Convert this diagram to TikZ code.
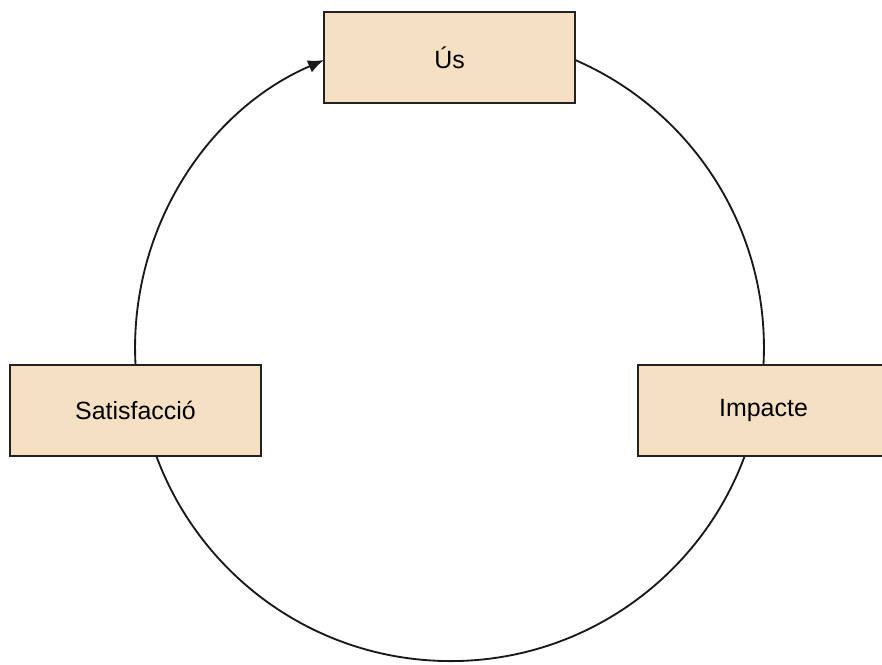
\documentclass[tikz,border=0pt]{standalone}
\usepackage{fontspec}
\setmainfont{Liberation Sans}
\usetikzlibrary{arrows.meta,backgrounds}
\definecolor{boxfill}{HTML}{F5E0C3}
\definecolor{boxline}{HTML}{222222}
\tikzset{
	fase/.style={draw=boxline, line width=1.1pt, fill=boxfill, minimum width=5.02cm, minimum height=1.82cm, font=\fontsize{14.2}{17}\selectfont},
	ring/.style={line width=1.05pt, color=black!90}
}
\begin{document}
\begin{tikzpicture}[x=0.02cm, y=0.02cm]
		\useasboundingbox (0,0) rectangle (882,664);
		\clip (0,0) rectangle (882,664);
		\foreach \name/\pos/\txt in {
			us/{449.5,606.5}/{Ús},
			sat/{135.5,253.5}/{Satisfacció},
			imp/{763.5,253.5}/{Impacte}
		}{
		\node[fase] (\name) at (\pos) {\txt};
		}
		% cycle round the three phases
		\draw[ring, -{Latex[length=0.32cm, width=0.26cm]}] (sat.north) arc[start angle=183, end angle=113.4, radius=6.27cm];
		\begin{scope}[on background layer]
		\draw[ring] (imp.north) arc[start angle=-3, end angle=80, radius=6.27cm];
		\draw[ring] (imp.north) arc[start angle=-3, end angle=-177, radius=6.27cm];
		\end{scope}
		\end{tikzpicture}
\end{document}
